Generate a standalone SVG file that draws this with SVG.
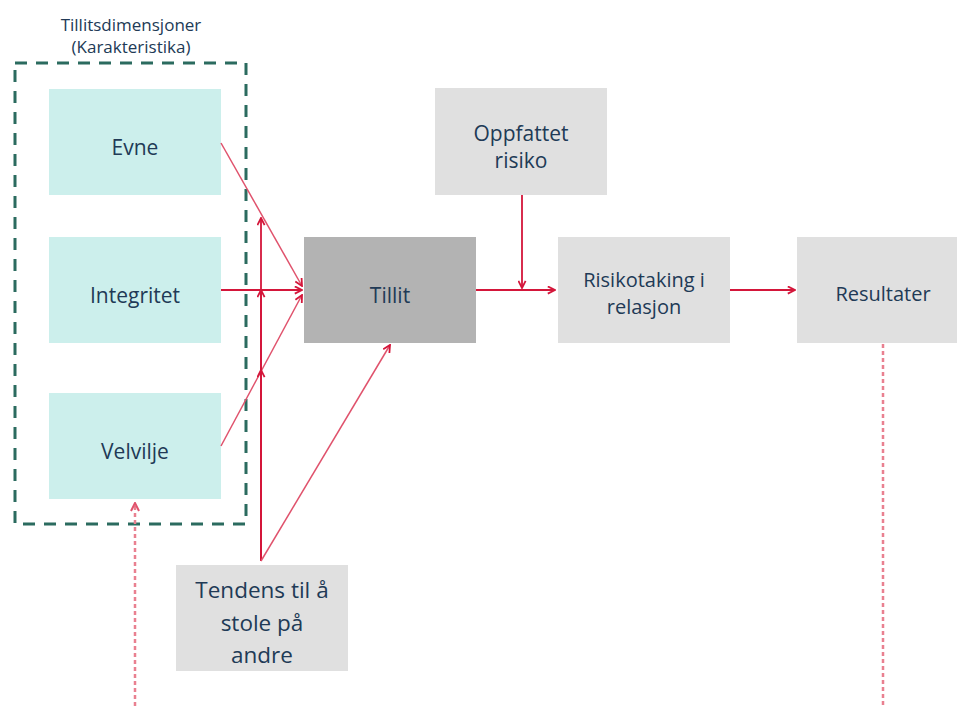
<svg xmlns="http://www.w3.org/2000/svg" width="957" height="706" viewBox="0 0 957 706">
<style>
.dim{fill:#ccefec}
.gray{fill:#e0e0e0}
.dark{fill:#b3b3b3}
.t{font-family:"Open Sans","Liberation Sans",sans-serif;fill:#213a56;text-anchor:middle}
.big{font-size:21px}
.tb{font-size:22.5px}
.mid{font-size:20px}
.sm{font-size:17px}
.c{stroke:#d4163a;stroke-width:1.8;fill:none}
.cl{stroke:#e0526c;stroke-width:1.5;fill:none}
.dot{stroke:#e98090;stroke-width:2.5;fill:none;stroke-dasharray:4 3}
</style>
<defs>
<marker id="ah" viewBox="0 0 10 10" refX="9" refY="5" markerWidth="9" markerHeight="9" markerUnits="userSpaceOnUse" orient="auto">
<path d="M1,1 L9,5 L1,9" fill="none" stroke="#d4163a" stroke-width="2"/>
</marker>
<marker id="ahd" viewBox="0 0 10 10" refX="9" refY="5" markerWidth="10" markerHeight="10" markerUnits="userSpaceOnUse" orient="auto">
<path d="M1,1 L9,5 L1,9" fill="none" stroke="#e0526c" stroke-width="2"/>
</marker>
</defs>
<rect width="957" height="706" fill="#ffffff"/>
<g id="group-dim">
<text class="t sm" x="131" y="31">Tillitsdimensjoner</text>
<text class="t sm" x="131" y="53">(Karakteristika)</text>
<rect x="15" y="63" width="231" height="461" fill="none" stroke="#2b6b5f" stroke-width="3" stroke-dasharray="12 9"/>
</g>
<g id="evne"><rect class="dim" x="49" y="89" width="172" height="106"/><text class="t big" x="135" y="155">Evne</text></g>
<g id="integritet"><rect class="dim" x="49" y="237" width="172" height="106"/><text class="t big" x="135" y="303">Integritet</text></g>
<g id="velvilje"><rect class="dim" x="49" y="393" width="172" height="106"/><text class="t big" x="135" y="459">Velvilje</text></g>
<g id="tillit"><rect class="dark" x="304" y="237" width="172" height="106"/><text class="t big" x="390" y="303">Tillit</text></g>
<g id="oppfattet"><rect class="gray" x="435" y="88" width="172" height="107"/><text class="t big" x="521" y="141">Oppfattet</text><text class="t big" x="521" y="168">risiko</text></g>
<g id="risikotaking"><rect class="gray" x="558" y="237" width="172" height="106"/><text class="t mid" x="644" y="287">Risikotaking i</text><text class="t mid" x="644" y="314">relasjon</text></g>
<g id="resultater"><rect class="gray" x="797" y="237" width="160" height="106"/><text class="t mid" x="883" y="301">Resultater</text></g>
<g id="tendens"><rect class="gray" x="176" y="565" width="172" height="106"/><text class="t tb" x="262" y="598">Tendens til å</text><text class="t tb" x="262" y="631">stole på</text><text class="t tb" x="262" y="663">andre</text></g>
<g id="connectors">
<line class="cl" x1="221" y1="143" x2="302" y2="286" marker-end="url(#ah)"/>
<line class="c" x1="221" y1="290" x2="302" y2="290" marker-end="url(#ah)"/>
<line class="cl" x1="221" y1="446" x2="302" y2="295" marker-end="url(#ah)"/>
<line class="c" x1="261" y1="561" x2="261" y2="218" marker-end="url(#ah)"/>
<line class="c" x1="261" y1="561" x2="261" y2="290" marker-end="url(#ah)"/>
<line class="c" x1="261" y1="561" x2="261" y2="370" marker-end="url(#ah)"/>
<line class="cl" x1="261" y1="561" x2="390" y2="345" marker-end="url(#ah)"/>
<line class="c" x1="476" y1="290" x2="555" y2="290" marker-end="url(#ah)"/>
<line class="c" x1="522" y1="195" x2="522" y2="288" marker-end="url(#ah)"/>
<line class="c" x1="730" y1="290" x2="795" y2="290" marker-end="url(#ah)"/>
<line class="dot" x1="883" y1="344" x2="883" y2="706"/>
<line class="dot" x1="135" y1="706" x2="135" y2="503" marker-end="url(#ahd)"/>
</g>
</svg>
